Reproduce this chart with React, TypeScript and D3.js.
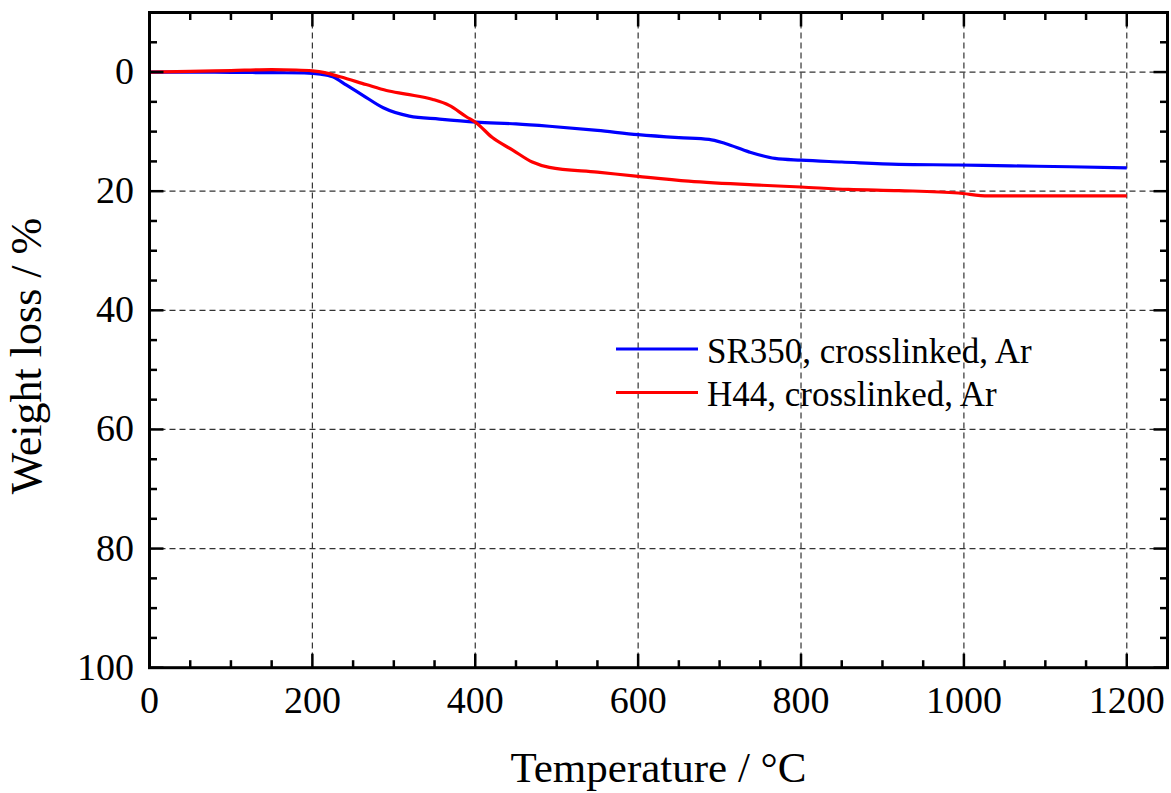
import React from "react";
import * as d3 from "d3";

const sr350Temp = [0, 50, 100, 150, 190, 210, 225, 242, 262, 287, 319, 356, 401, 450, 491, 550, 600, 650, 687, 707, 736, 768, 800, 850, 920, 993, 1058, 1130, 1200];
const sr350Loss = [0, 0.0, 0.05, 0.1, 0.15, 0.35, 0.8, 2.2, 3.9, 6.0, 7.4, 7.9, 8.4, 8.7, 9.1, 9.8, 10.5, 11.0, 11.3, 12.0, 13.4, 14.5, 14.8, 15.1, 15.5, 15.6, 15.75, 15.9, 16.1];

const h44Temp = [0, 50, 100, 150, 180, 200, 215, 234, 266, 291, 315, 348, 368, 389, 401, 421, 446, 470, 491, 550, 600, 662, 752, 800, 858, 920, 993, 1030, 1100, 1200];
const h44Loss = [0, -0.1, -0.25, -0.4, -0.35, -0.2, 0.1, 0.8, 2.1, 3.1, 3.7, 4.6, 5.6, 7.5, 8.5, 11.0, 13.1, 15.1, 16.0, 16.8, 17.5, 18.3, 19.0, 19.3, 19.7, 19.9, 20.3, 20.8, 20.8, 20.8];

const xMajor = [0, 200, 400, 600, 800, 1000, 1200];
const yMajor = [0, 20, 40, 60, 80, 100];

const seriesNames = ["SR350, crosslinked, Ar", "H44, crosslinked, Ar"];
const seriesColors = ["#0000ff", "#ff0000"];

const W = 1171;
const H = 793;
const left = 149.5;
const right = 1167.5;
const top = 12.5;
const bottom = 667.7;
const FONT = "'Liberation Serif', 'Times New Roman', serif";

export default function App() {
  const x = d3.scaleLinear().domain([0, 1250]).range([left, right]);
  const y = d3.scaleLinear().domain([-10, 100]).range([top, bottom]);

  const line = d3
    .line<[number, number]>()
    .x((d) => x(d[0]))
    .y((d) => y(d[1]))
    .curve(d3.curveMonotoneX);

  const sr = sr350Temp.map((t, i) => [t, sr350Loss[i]] as [number, number]);
  const h4 = h44Temp.map((t, i) => [t, h44Loss[i]] as [number, number]);

  const xMinor = d3.range(50, 1250, 50).filter((v) => v % 200 !== 0);
  const yMinor = d3.range(-5, 100, 5).filter((v) => v % 20 !== 0);
  const xGrid = xMajor.filter((v) => v > 0);
  const yGrid = yMajor.filter((v) => v < 100);

  const major = 14;
  const minor = 7.5;

  return (
    <svg width={W} height={H} style={{ position: "absolute", left: 0, top: 0, background: "#fff" }}>
      <rect x={0} y={0} width={W} height={H} fill="#fff" />
      {/* grid */}
      <g stroke="#333" strokeWidth={1.2} strokeDasharray="6,4">
        {xGrid.map((v) => (
          <line key={"gx" + v} x1={x(v)} x2={x(v)} y1={top} y2={bottom} />
        ))}
        {yGrid.map((v) => (
          <line key={"gy" + v} x1={left} x2={right} y1={y(v)} y2={y(v)} />
        ))}
      </g>
      {/* curves */}
      <path d={line(sr) || ""} fill="none" stroke={seriesColors[0]} strokeWidth={3.2} strokeLinejoin="round" />
      <path d={line(h4) || ""} fill="none" stroke={seriesColors[1]} strokeWidth={3.2} strokeLinejoin="round" />
      {/* ticks */}
      <g stroke="#000" strokeWidth={2.5}>
        {xMajor.concat(xMinor).map((v) => {
          const len = v % 200 === 0 ? major : minor;
          return (
            <g key={"xt" + v}>
              <line x1={x(v)} x2={x(v)} y1={bottom} y2={bottom - len} />
              <line x1={x(v)} x2={x(v)} y1={top} y2={top + len} />
            </g>
          );
        })}
        {yMajor.concat(yMinor).map((v) => {
          const len = v % 20 === 0 ? major : minor;
          return (
            <g key={"yt" + v}>
              <line x1={left} x2={left + len} y1={y(v)} y2={y(v)} />
              <line x1={right} x2={right - len} y1={y(v)} y2={y(v)} />
            </g>
          );
        })}
      </g>
      {/* frame */}
      <rect x={left} y={top} width={right - left} height={bottom - top} fill="none" stroke="#000" strokeWidth={3} />
      {/* tick labels */}
      <g fontFamily={FONT} fontSize={38} fill="#000">
        {xMajor.map((v) => (
          <text key={"xl" + v} x={x(v)} y={712.5} textAnchor="middle">
            {v}
          </text>
        ))}
        {yMajor.map((v) => (
          <text key={"yl" + v} x={134} y={y(v) + 12} textAnchor="end">
            {v}
          </text>
        ))}
      </g>
      {/* axis titles */}
      <text x={(left + right) / 2} y={782} textAnchor="middle" fontFamily={FONT} fontSize={43}>
        Temperature / °C
      </text>
      <text
        transform={`translate(41, 356) rotate(-90)`}
        textAnchor="middle"
        fontFamily={FONT}
        fontSize={44}
      >
        Weight loss / %
      </text>
      {/* legend */}
      {seriesNames.map((name, i) => (
        <g key={"lg" + i}>
          <line x1={616} x2={698} y1={349 + i * 43.5} y2={349 + i * 43.5} stroke={seriesColors[i]} strokeWidth={3} />
          <text x={707} y={362.5 + i * 43.5} fontFamily={FONT} fontSize={35}>
            {name}
          </text>
        </g>
      ))}
    </svg>
  );
}
